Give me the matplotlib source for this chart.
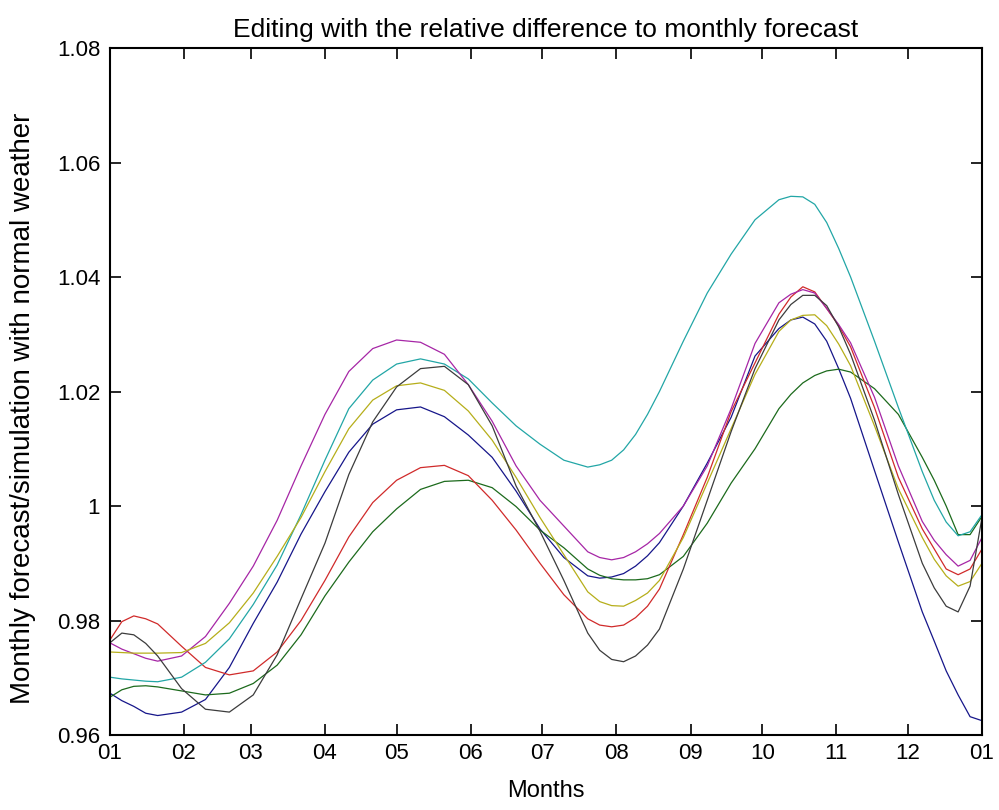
import matplotlib
matplotlib.use('Agg')
import matplotlib.pyplot as plt

# ---------------------------------------------------------------
# data (day of year, ratio)
# ---------------------------------------------------------------
days = [0, 5, 10, 15, 20, 30, 40, 50,
        60, 70, 80, 90, 100, 110, 120, 130,
        140, 150, 160, 170, 180, 190, 200, 205,
        210, 215, 220, 225, 230, 240, 250, 260,
        270, 280, 285, 290, 295, 300, 305, 310,
        320, 330, 340, 345, 350, 355, 360, 365]

blue = [0.9673, 0.9660, 0.9650, 0.9638, 0.9634, 0.9640, 0.9662, 0.9718,
        0.9795, 0.9867, 0.9951, 1.0025, 1.0094, 1.0143, 1.0168, 1.0173,
        1.0156, 1.0124, 1.0085, 1.0026, 0.9960, 0.9910, 0.9878, 0.9874,
        0.9876, 0.9882, 0.9895, 0.9913, 0.9936, 1.0000, 1.0075, 1.0155,
        1.0262, 1.0310, 1.0325, 1.0330, 1.0318, 1.0288, 1.0240, 1.0188,
        1.0062, 0.9937, 0.9815, 0.9764, 0.9712, 0.9670, 0.9632, 0.9625]

green = [0.9666, 0.9679, 0.9685, 0.9686, 0.9684, 0.9677, 0.9670, 0.9673,
         0.9690, 0.9722, 0.9775, 0.9843, 0.9902, 0.9955, 0.9995, 1.0029,
         1.0043, 1.0045, 1.0032, 0.9999, 0.9958, 0.9927, 0.9890, 0.9879,
         0.9873, 0.9871, 0.9871, 0.9873, 0.9880, 0.9912, 0.9970, 1.0040,
         1.0100, 1.0170, 1.0195, 1.0215, 1.0228, 1.0236, 1.0239, 1.0234,
         1.0205, 1.0160, 1.0085, 1.0045, 1.0000, 0.9950, 0.9950, 0.9982]

red = [0.9766, 0.9798, 0.9808, 0.9803, 0.9794, 0.9755, 0.9718, 0.9705,
       0.9712, 0.9745, 0.9800, 0.9870, 0.9946, 1.0006, 1.0045, 1.0067,
       1.0071, 1.0053, 1.0010, 0.9958, 0.9900, 0.9845, 0.9803, 0.9792,
       0.9789, 0.9792, 0.9805, 0.9825, 0.9855, 0.9950, 1.0050, 1.0165,
       1.0250, 1.0335, 1.0365, 1.0383, 1.0374, 1.0345, 1.0315, 1.0278,
       1.0172, 1.0050, 0.9960, 0.9925, 0.9890, 0.9880, 0.9890, 0.9925]

cyan = [0.9701, 0.9698, 0.9696, 0.9694, 0.9693, 0.9701, 0.9727, 0.9768,
        0.9828, 0.9897, 0.9985, 1.0080, 1.0170, 1.0220, 1.0248, 1.0257,
        1.0248, 1.0222, 1.0180, 1.0140, 1.0108, 1.0080, 1.0068, 1.0072,
        1.0080, 1.0098, 1.0125, 1.0160, 1.0200, 1.0288, 1.0372, 1.0440,
        1.0500, 1.0535, 1.0541, 1.0540, 1.0527, 1.0495, 1.0450, 1.0400,
        1.0288, 1.0172, 1.0060, 1.0010, 0.9972, 0.9948, 0.9955, 0.9985]

magenta = [0.9761, 0.9750, 0.9742, 0.9734, 0.9729, 0.9738, 0.9772, 0.9830,
           0.9895, 0.9975, 1.0070, 1.0160, 1.0235, 1.0275, 1.0290, 1.0286,
           1.0265, 1.0212, 1.0148, 1.0070, 1.0010, 0.9965, 0.9920, 0.9910,
           0.9906, 0.9910, 0.9920, 0.9934, 0.9952, 1.0000, 1.0070, 1.0170,
           1.0284, 1.0355, 1.0370, 1.0378, 1.0372, 1.0345, 1.0317, 1.0285,
           1.0190, 1.0070, 0.9973, 0.9940, 0.9915, 0.9895, 0.9905, 0.9945]

yellow = [0.9745, 0.9744, 0.9743, 0.9743, 0.9743, 0.9744, 0.9760, 0.9796,
          0.9848, 0.9912, 0.9980, 1.0060, 1.0135, 1.0185, 1.0210, 1.0215,
          1.0202, 1.0166, 1.0115, 1.0050, 0.9980, 0.9915, 0.9850, 0.9833,
          0.9826, 0.9825, 0.9835, 0.9848, 0.9870, 0.9945, 1.0040, 1.0135,
          1.0230, 1.0305, 1.0325, 1.0333, 1.0334, 1.0315, 1.0283, 1.0245,
          1.0140, 1.0030, 0.9945, 0.9907, 0.9878, 0.9860, 0.9868, 0.9900]

black = [0.9761, 0.9778, 0.9775, 0.9760, 0.9738, 0.9681, 0.9645, 0.9640,
         0.9670, 0.9740, 0.9838, 0.9935, 1.0055, 1.0147, 1.0208, 1.0240,
         1.0244, 1.0212, 1.0140, 1.0035, 0.9956, 0.9870, 0.9778, 0.9748,
         0.9732, 0.9728, 0.9738, 0.9757, 0.9785, 0.9890, 1.0010, 1.0130,
         1.0240, 1.0325, 1.0352, 1.0368, 1.0368, 1.0350, 1.0313, 1.0265,
         1.0150, 1.0020, 0.9900, 0.9857, 0.9825, 0.9815, 0.9860, 0.9980]

month_days = [0, 31, 59, 90, 120, 151, 181, 212, 243, 273, 304, 334, 365]
month_labels = ['01', '02', '03', '04', '05', '06', '07', '08', '09', '10',
                '11', '12', '01']
yticks = [0.96, 0.98, 1.0, 1.02, 1.04, 1.06, 1.08]
ylabels = ['0.96', '0.98', '1', '1.02', '1.04', '1.06', '1.08']

plt.rcParams['font.family'] = ['Liberation Sans', 'DejaVu Sans']

fig = plt.figure(figsize=(9.99, 8.10), dpi=100)
ax = fig.add_axes([0.110, 0.0926, 0.873, 0.8481])

series = [blue, green, red, cyan, magenta, yellow, black]
colors = ['#16168a', '#1c6a1c', '#d02a2a', '#22a6a6', '#a626a6',
          '#b6ae1a', '#3c3c3c']
for s, c in zip(series, colors):
    ax.plot(days, s, color=c, lw=0.9)

ax.set_xlim(0, 365)
ax.set_ylim(0.96, 1.08)
ax.set_xticks(month_days)
ax.set_xticklabels(month_labels)
ax.set_yticks(yticks)
ax.set_yticklabels(ylabels)
ax.tick_params(direction='in', length=8, width=1.2, labelsize=16,
               top=True, right=True)
ax.tick_params(axis='x', pad=6)
ax.tick_params(axis='y', pad=7)
for sp in ax.spines.values():
    sp.set_linewidth(1.5)

ax.set_title('Editing with the relative difference to monthly forecast',
             fontsize=19, pad=8)
ax.set_xlabel('Months', fontsize=17, labelpad=11)
ax.set_ylabel('Monthly forecast/simulation with normal weather', fontsize=20)
ax.yaxis.set_label_coords(-0.085, 0.475)

fig.savefig('out.png', dpi=100)
